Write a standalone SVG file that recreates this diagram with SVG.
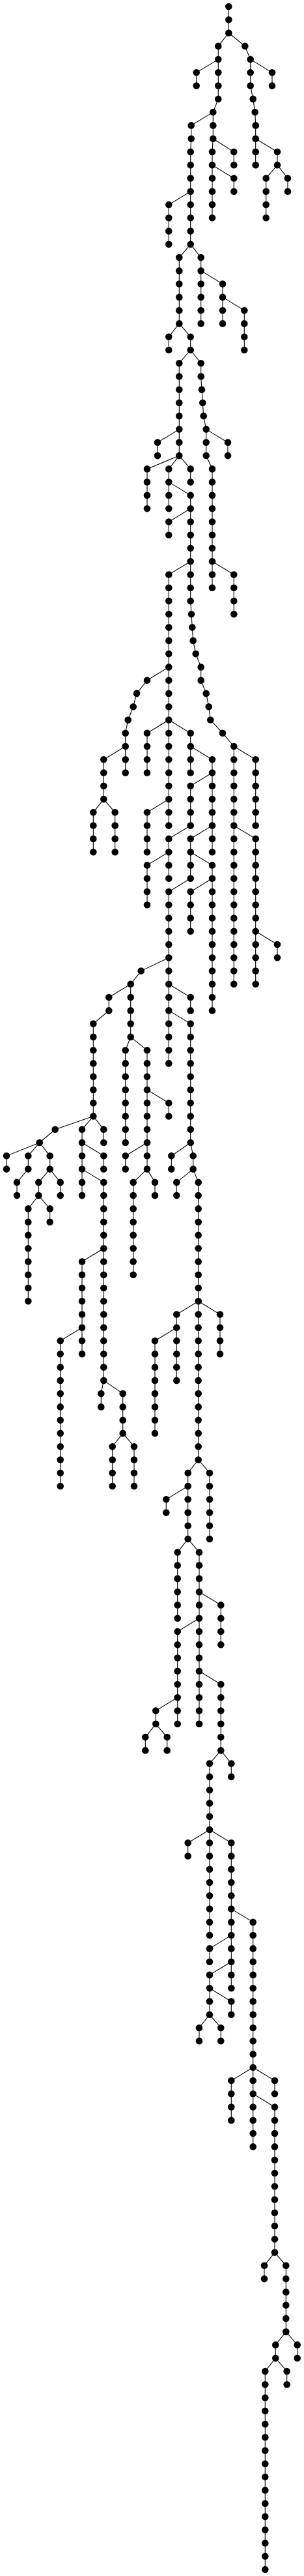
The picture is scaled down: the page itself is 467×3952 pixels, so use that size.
<svg xmlns="http://www.w3.org/2000/svg" width="467" height="3952" viewBox="0 0 467 3952">
<style>#edges path{fill:none;stroke:#000;stroke-width:1.1}.n circle{fill:#000}</style>
<rect width="467" height="3952" fill="#fff"/>
<g id="edges">
<path d="M351.3 10V50.5"/>
<path d="M351.3 50.5L335.3 70.8V91.1"/>
<path d="M351.3 50.5L376.3 70.8L384.7 91.1"/>
<path d="M335.3 91.1L301.7 111.3V131.6"/>
<path d="M335.3 91.1V151.9L327.3 172.1"/>
<path d="M327.3 172.1L293.7 192.4V212.7L292.7 233V293.8"/>
<path d="M327.3 172.1V212.7"/>
<path d="M292.7 293.8L259.3 314V374.8"/>
<path d="M292.7 293.8V374.8"/>
<path d="M327.3 212.7L326 233V253.2"/>
<path d="M327.3 212.7L359.3 233V253.2"/>
<path d="M326 253.2V334.3"/>
<path d="M326 253.2L359.3 273.5V293.8"/>
<path d="M384.7 91.1V131.6L388.7 151.9L391.7 172.1L392.7 192.4V212.7"/>
<path d="M384.7 91.1L418 111.3V131.6"/>
<path d="M392.7 212.7V253.2"/>
<path d="M392.7 212.7L426 233V253.2"/>
<path d="M426 253.2L408.7 273.5V334.3"/>
<path d="M426 253.2L442 273.5V293.8"/>
<path d="M292.7 374.8L275.3 395.1V496.4"/>
<path d="M292.7 374.8L308.7 395.1V415.4"/>
<path d="M308.7 415.4V496.4"/>
<path d="M308.7 415.4L342 435.6V455.9"/>
<path d="M342 455.9V496.4"/>
<path d="M342 455.9L375.3 476.2V537"/>
<path d="M275.3 496.4L259.3 516.7V537"/>
<path d="M275.3 496.4L292.7 516.7V537"/>
<path d="M292.7 537L275.3 557.2V658.6"/>
<path d="M292.7 537L308.7 557.2V577.5L310 597.8L311.3 618L312.7 638.3L316.7 658.6"/>
<path d="M316.7 658.6V699.1L326 719.4V861.3"/>
<path d="M316.7 658.6L350 678.8V699.1"/>
<path d="M326 861.3V901.8"/>
<path d="M326 861.3L359.3 881.5V942.3"/>
<path d="M275.3 658.6L242 678.8V699.1"/>
<path d="M275.3 658.6V699.1"/>
<path d="M275.3 699.1L226 719.4V780.2"/>
<path d="M275.3 699.1L259.3 719.4V739.6"/>
<path d="M275.3 699.1L292.7 719.4V739.6"/>
<path d="M259.3 739.6V780.2"/>
<path d="M259.3 739.6L292.7 759.9V780.2"/>
<path d="M292.7 780.2L259.3 800.5V820.7"/>
<path d="M292.7 780.2V861.3"/>
<path d="M292.7 861.3L259.3 881.5V1023.4"/>
<path d="M292.7 861.3V922.1L294 942.3L295.3 962.6L296.7 982.9L300.7 1003.1L308.7 1023.4V1043.7L316.7 1063.9L320.7 1084.2L323.3 1104.5L342 1124.7L359.3 1145"/>
<path d="M359.3 1145V1266.6"/>
<path d="M359.3 1145L392.7 1165.3V1266.6"/>
<path d="M359.3 1266.6V1509.8"/>
<path d="M359.3 1266.6L392.7 1286.9V1428.8"/>
<path d="M392.7 1428.8V1509.8"/>
<path d="M392.7 1428.8L426 1449V1469.3"/>
<path d="M259.3 1023.4L226 1043.7L210 1063.9L204.7 1084.2L196.7 1104.5L192.7 1124.7V1145"/>
<path d="M259.3 1023.4V1104.5"/>
<path d="M192.7 1145L159.3 1165.3V1226.1"/>
<path d="M192.7 1145V1185.5"/>
<path d="M159.3 1226.1L143.3 1246.3V1307.2"/>
<path d="M159.3 1226.1L176.7 1246.3V1307.2"/>
<path d="M259.3 1104.5L226 1124.7V1185.5"/>
<path d="M259.3 1104.5V1226.1"/>
<path d="M259.3 1104.5L292.7 1124.7V1145"/>
<path d="M292.7 1145V1185.5"/>
<path d="M292.7 1145L326 1165.3V1185.5"/>
<path d="M326 1185.5L292.7 1205.8V1266.6"/>
<path d="M326 1185.5V1266.6"/>
<path d="M259.3 1226.1L226 1246.3V1307.2"/>
<path d="M259.3 1226.1V1266.6"/>
<path d="M292.7 1266.6L259.3 1286.9V1307.2"/>
<path d="M326 1266.6L292.7 1286.9V1307.2"/>
<path d="M326 1266.6V1307.2"/>
<path d="M259.3 1307.2L226 1327.4V1388.2"/>
<path d="M259.3 1307.2V1347.7"/>
<path d="M292.7 1307.2V1347.7"/>
<path d="M292.7 1307.2L326 1327.4V1347.7"/>
<path d="M292.7 1347.7L259.3 1368V1469.3"/>
<path d="M326 1347.7L292.7 1368V1428.8"/>
<path d="M326 1347.7V1550.4"/>
<path d="M259.3 1469.3L216.7 1489.6L200.7 1509.8"/>
<path d="M259.3 1469.3V1509.8"/>
<path d="M259.3 1509.8V1550.4"/>
<path d="M259.3 1509.8L292.7 1530.1V1550.4"/>
<path d="M259.3 1550.4V1631.4"/>
<path d="M259.3 1550.4L292.7 1570.6V1753"/>
<path d="M292.7 1753L263.3 1773.3V1793.6"/>
<path d="M292.7 1753L296.7 1773.3V1793.6"/>
<path d="M296.7 1793.6L271.3 1813.9V1834.1"/>
<path d="M296.7 1793.6L304.7 1813.9V1996.3"/>
<path d="M304.7 1996.3L271.3 2016.5V2036.8"/>
<path d="M304.7 1996.3V2239.5"/>
<path d="M304.7 1996.3L338 2016.5V2077.3"/>
<path d="M271.3 2036.8L238 2057.1V2198.9"/>
<path d="M271.3 2036.8V2117.9"/>
<path d="M304.7 2239.5L288.7 2259.7V2280"/>
<path d="M304.7 2239.5L322 2259.7V2361.1"/>
<path d="M288.7 2280L255.3 2300.3V2320.6"/>
<path d="M288.7 2280V2361.1"/>
<path d="M288.7 2361.1L272.7 2381.4V2482.7"/>
<path d="M288.7 2361.1L306 2381.4V2442.2"/>
<path d="M306 2442.2V2482.7"/>
<path d="M306 2442.2L339.3 2462.4V2523.2"/>
<path d="M306 2482.7L272.7 2503V2604.3"/>
<path d="M306 2482.7V2563.8"/>
<path d="M272.7 2604.3L239.3 2624.6V2644.8"/>
<path d="M272.7 2604.3V2644.8"/>
<path d="M239.3 2644.8L223.3 2665.1V2685.4"/>
<path d="M239.3 2644.8L256.7 2665.1V2685.4"/>
<path d="M306 2563.8V2644.8"/>
<path d="M306 2563.8L339.3 2584V2685.4"/>
<path d="M339.3 2685.4L322 2705.6V2807"/>
<path d="M339.3 2685.4L355.3 2705.6V2725.9"/>
<path d="M322 2807L288.7 2827.3V2847.5"/>
<path d="M322 2807V2969.1"/>
<path d="M322 2807L355.3 2827.3V2928.6"/>
<path d="M355.3 2928.6V2969.1"/>
<path d="M355.3 2928.6L388.7 2948.9V3171.8"/>
<path d="M355.3 2969.1L322 2989.4V3009.7"/>
<path d="M355.3 2969.1V3009.7"/>
<path d="M355.3 3009.7L322 3029.9V3050.2"/>
<path d="M355.3 3009.7V3050.2"/>
<path d="M322 3050.2V3090.7"/>
<path d="M322 3050.2L355.3 3070.5V3090.7"/>
<path d="M322 3090.7L306 3111V3131.3"/>
<path d="M322 3090.7L339.3 3111V3131.3"/>
<path d="M388.7 3171.8L355.3 3192.1V3252.9"/>
<path d="M388.7 3171.8V3212.3"/>
<path d="M388.7 3171.8L422 3192.1V3212.3"/>
<path d="M388.7 3212.3V3293.4"/>
<path d="M388.7 3212.3L422 3232.6V3455.6"/>
<path d="M422 3455.6L406 3475.8V3496.1"/>
<path d="M422 3455.6L439.3 3475.8V3577.2"/>
<path d="M439.3 3577.2L423.3 3597.4V3617.7"/>
<path d="M439.3 3577.2L456.7 3597.4V3617.7"/>
<path d="M423.3 3617.7L407.3 3638V3942"/>
<path d="M423.3 3617.7L440.7 3638V3658.2"/>
<path d="M200.7 1509.8L167.3 1530.1V1550.4L143.3 1570.6V1712.5"/>
<path d="M200.7 1509.8V1590.9"/>
<path d="M143.3 1712.5L84.7 1732.8L60.7 1753"/>
<path d="M143.3 1712.5L126 1732.8V1753"/>
<path d="M143.3 1712.5L159.3 1732.8V1753"/>
<path d="M200.7 1590.9L192.7 1611.2V1753"/>
<path d="M200.7 1590.9L226 1611.2V1672"/>
<path d="M226 1672V1753"/>
<path d="M226 1672L259.3 1692.2V1712.5"/>
<path d="M226 1753L192.7 1773.3V1793.6"/>
<path d="M226 1753V1793.6"/>
<path d="M226 1793.6L204.7 1813.9V1955.7"/>
<path d="M226 1793.6L238 1813.9V1834.1"/>
<path d="M126 1753V1793.6"/>
<path d="M126 1753L159.3 1773.3V1793.6"/>
<path d="M126 1793.6V1834.1"/>
<path d="M126 1793.6L159.3 1813.9V1915.2"/>
<path d="M159.3 1915.2L126 1935.5V2036.8"/>
<path d="M159.3 1915.2V2117.9"/>
<path d="M126 2036.8L92.7 2057.1V2280"/>
<path d="M126 2036.8V2077.3"/>
<path d="M159.3 2117.9L155.3 2138.1V2158.4"/>
<path d="M159.3 2117.9L188.7 2138.1V2198.9"/>
<path d="M188.7 2198.9L172.7 2219.2V2280"/>
<path d="M188.7 2198.9L206 2219.2V2280"/>
<path d="M60.7 1753L10 1773.3V1793.6"/>
<path d="M60.7 1753L43.3 1773.3V1793.6L26 1813.9V1834.1"/>
<path d="M60.7 1753L76.7 1773.3V1793.6"/>
<path d="M76.7 1793.6L59.3 1813.9V1834.1"/>
<path d="M76.7 1793.6L92.7 1813.9V1834.1"/>
<path d="M59.3 1834.1L43.3 1854.4V1996.3"/>
<path d="M59.3 1834.1L76.7 1854.4V1874.7"/>
</g>
<g class="n">
<g id="n1"><circle cx="351.3" cy="10" r="5.3"/></g>
<g id="n2"><circle cx="351.3" cy="30.3" r="5.3"/></g>
<g id="n3"><circle cx="351.3" cy="50.5" r="5.3"/></g>
<g id="n4"><circle cx="335.3" cy="70.8" r="5.3"/></g>
<g id="n5"><circle cx="335.3" cy="91.1" r="5.3"/></g>
<g id="n6"><circle cx="376.3" cy="70.8" r="5.3"/></g>
<g id="n7"><circle cx="384.7" cy="91.1" r="5.3"/></g>
<g id="n8"><circle cx="301.7" cy="111.3" r="5.3"/></g>
<g id="n9"><circle cx="301.7" cy="131.6" r="5.3"/></g>
<g id="n10"><circle cx="335.3" cy="111.3" r="5.3"/></g>
<g id="n11"><circle cx="335.3" cy="131.6" r="5.3"/></g>
<g id="n12"><circle cx="335.3" cy="151.9" r="5.3"/></g>
<g id="n13"><circle cx="327.3" cy="172.1" r="5.3"/></g>
<g id="n14"><circle cx="293.7" cy="192.4" r="5.3"/></g>
<g id="n15"><circle cx="293.7" cy="212.7" r="5.3"/></g>
<g id="n16"><circle cx="292.7" cy="233" r="5.3"/></g>
<g id="n17"><circle cx="292.7" cy="253.2" r="5.3"/></g>
<g id="n18"><circle cx="292.7" cy="273.5" r="5.3"/></g>
<g id="n19"><circle cx="292.7" cy="293.8" r="5.3"/></g>
<g id="n20"><circle cx="327.3" cy="192.4" r="5.3"/></g>
<g id="n21"><circle cx="327.3" cy="212.7" r="5.3"/></g>
<g id="n22"><circle cx="259.3" cy="314" r="5.3"/></g>
<g id="n23"><circle cx="259.3" cy="334.3" r="5.3"/></g>
<g id="n24"><circle cx="259.3" cy="354.6" r="5.3"/></g>
<g id="n25"><circle cx="259.3" cy="374.8" r="5.3"/></g>
<g id="n26"><circle cx="292.7" cy="314" r="5.3"/></g>
<g id="n27"><circle cx="292.7" cy="334.3" r="5.3"/></g>
<g id="n28"><circle cx="292.7" cy="354.6" r="5.3"/></g>
<g id="n29"><circle cx="292.7" cy="374.8" r="5.3"/></g>
<g id="n30"><circle cx="326" cy="233" r="5.3"/></g>
<g id="n31"><circle cx="326" cy="253.2" r="5.3"/></g>
<g id="n32"><circle cx="359.3" cy="233" r="5.3"/></g>
<g id="n33"><circle cx="359.3" cy="253.2" r="5.3"/></g>
<g id="n34"><circle cx="326" cy="273.5" r="5.3"/></g>
<g id="n35"><circle cx="326" cy="293.8" r="5.3"/></g>
<g id="n36"><circle cx="326" cy="314" r="5.3"/></g>
<g id="n37"><circle cx="326" cy="334.3" r="5.3"/></g>
<g id="n38"><circle cx="359.3" cy="273.5" r="5.3"/></g>
<g id="n39"><circle cx="359.3" cy="293.8" r="5.3"/></g>
<g id="n40"><circle cx="384.7" cy="111.3" r="5.3"/></g>
<g id="n41"><circle cx="384.7" cy="131.6" r="5.3"/></g>
<g id="n42"><circle cx="388.7" cy="151.9" r="5.3"/></g>
<g id="n43"><circle cx="391.7" cy="172.1" r="5.3"/></g>
<g id="n44"><circle cx="392.7" cy="192.4" r="5.3"/></g>
<g id="n45"><circle cx="392.7" cy="212.7" r="5.3"/></g>
<g id="n46"><circle cx="418" cy="111.3" r="5.3"/></g>
<g id="n47"><circle cx="418" cy="131.6" r="5.3"/></g>
<g id="n48"><circle cx="392.7" cy="233" r="5.3"/></g>
<g id="n49"><circle cx="392.7" cy="253.2" r="5.3"/></g>
<g id="n50"><circle cx="426" cy="233" r="5.3"/></g>
<g id="n51"><circle cx="426" cy="253.2" r="5.3"/></g>
<g id="n52"><circle cx="408.7" cy="273.5" r="5.3"/></g>
<g id="n53"><circle cx="408.7" cy="293.8" r="5.3"/></g>
<g id="n54"><circle cx="408.7" cy="314" r="5.3"/></g>
<g id="n55"><circle cx="408.7" cy="334.3" r="5.3"/></g>
<g id="n56"><circle cx="442" cy="273.5" r="5.3"/></g>
<g id="n57"><circle cx="442" cy="293.8" r="5.3"/></g>
<g id="n58"><circle cx="275.3" cy="395.1" r="5.3"/></g>
<g id="n59"><circle cx="275.3" cy="415.4" r="5.3"/></g>
<g id="n60"><circle cx="275.3" cy="435.6" r="5.3"/></g>
<g id="n61"><circle cx="275.3" cy="455.9" r="5.3"/></g>
<g id="n62"><circle cx="275.3" cy="476.2" r="5.3"/></g>
<g id="n63"><circle cx="275.3" cy="496.4" r="5.3"/></g>
<g id="n64"><circle cx="308.7" cy="395.1" r="5.3"/></g>
<g id="n65"><circle cx="308.7" cy="415.4" r="5.3"/></g>
<g id="n66"><circle cx="308.7" cy="435.6" r="5.3"/></g>
<g id="n67"><circle cx="308.7" cy="455.9" r="5.3"/></g>
<g id="n68"><circle cx="308.7" cy="476.2" r="5.3"/></g>
<g id="n69"><circle cx="308.7" cy="496.4" r="5.3"/></g>
<g id="n70"><circle cx="342" cy="435.6" r="5.3"/></g>
<g id="n71"><circle cx="342" cy="455.9" r="5.3"/></g>
<g id="n72"><circle cx="342" cy="476.2" r="5.3"/></g>
<g id="n73"><circle cx="342" cy="496.4" r="5.3"/></g>
<g id="n74"><circle cx="375.3" cy="476.2" r="5.3"/></g>
<g id="n75"><circle cx="375.3" cy="496.4" r="5.3"/></g>
<g id="n76"><circle cx="375.3" cy="516.7" r="5.3"/></g>
<g id="n77"><circle cx="375.3" cy="537" r="5.3"/></g>
<g id="n78"><circle cx="259.3" cy="516.7" r="5.3"/></g>
<g id="n79"><circle cx="259.3" cy="537" r="5.3"/></g>
<g id="n80"><circle cx="292.7" cy="516.7" r="5.3"/></g>
<g id="n81"><circle cx="292.7" cy="537" r="5.3"/></g>
<g id="n82"><circle cx="275.3" cy="557.2" r="5.3"/></g>
<g id="n83"><circle cx="275.3" cy="577.5" r="5.3"/></g>
<g id="n84"><circle cx="275.3" cy="597.8" r="5.3"/></g>
<g id="n85"><circle cx="275.3" cy="618" r="5.3"/></g>
<g id="n86"><circle cx="275.3" cy="638.3" r="5.3"/></g>
<g id="n87"><circle cx="275.3" cy="658.6" r="5.3"/></g>
<g id="n88"><circle cx="308.7" cy="557.2" r="5.3"/></g>
<g id="n89"><circle cx="308.7" cy="577.5" r="5.3"/></g>
<g id="n90"><circle cx="310" cy="597.8" r="5.3"/></g>
<g id="n91"><circle cx="311.3" cy="618" r="5.3"/></g>
<g id="n92"><circle cx="312.7" cy="638.3" r="5.3"/></g>
<g id="n93"><circle cx="316.7" cy="658.6" r="5.3"/></g>
<g id="n94"><circle cx="316.7" cy="678.8" r="5.3"/></g>
<g id="n95"><circle cx="316.7" cy="699.1" r="5.3"/></g>
<g id="n96"><circle cx="326" cy="719.4" r="5.3"/></g>
<g id="n97"><circle cx="326" cy="739.6" r="5.3"/></g>
<g id="n98"><circle cx="326" cy="759.9" r="5.3"/></g>
<g id="n99"><circle cx="326" cy="780.2" r="5.3"/></g>
<g id="n100"><circle cx="326" cy="800.5" r="5.3"/></g>
<g id="n101"><circle cx="326" cy="820.7" r="5.3"/></g>
<g id="n102"><circle cx="326" cy="841" r="5.3"/></g>
<g id="n103"><circle cx="326" cy="861.3" r="5.3"/></g>
<g id="n104"><circle cx="350" cy="678.8" r="5.3"/></g>
<g id="n105"><circle cx="350" cy="699.1" r="5.3"/></g>
<g id="n106"><circle cx="326" cy="881.5" r="5.3"/></g>
<g id="n107"><circle cx="326" cy="901.8" r="5.3"/></g>
<g id="n108"><circle cx="359.3" cy="881.5" r="5.3"/></g>
<g id="n109"><circle cx="359.3" cy="901.8" r="5.3"/></g>
<g id="n110"><circle cx="359.3" cy="922.1" r="5.3"/></g>
<g id="n111"><circle cx="359.3" cy="942.3" r="5.3"/></g>
<g id="n112"><circle cx="242" cy="678.8" r="5.3"/></g>
<g id="n113"><circle cx="242" cy="699.1" r="5.3"/></g>
<g id="n114"><circle cx="275.3" cy="678.8" r="5.3"/></g>
<g id="n115"><circle cx="275.3" cy="699.1" r="5.3"/></g>
<g id="n116"><circle cx="226" cy="719.4" r="5.3"/></g>
<g id="n117"><circle cx="226" cy="739.6" r="5.3"/></g>
<g id="n118"><circle cx="226" cy="759.9" r="5.3"/></g>
<g id="n119"><circle cx="226" cy="780.2" r="5.3"/></g>
<g id="n120"><circle cx="259.3" cy="719.4" r="5.3"/></g>
<g id="n121"><circle cx="259.3" cy="739.6" r="5.3"/></g>
<g id="n122"><circle cx="292.7" cy="719.4" r="5.3"/></g>
<g id="n123"><circle cx="292.7" cy="739.6" r="5.3"/></g>
<g id="n124"><circle cx="259.3" cy="759.9" r="5.3"/></g>
<g id="n125"><circle cx="259.3" cy="780.2" r="5.3"/></g>
<g id="n126"><circle cx="292.7" cy="759.9" r="5.3"/></g>
<g id="n127"><circle cx="292.7" cy="780.2" r="5.3"/></g>
<g id="n128"><circle cx="259.3" cy="800.5" r="5.3"/></g>
<g id="n129"><circle cx="259.3" cy="820.7" r="5.3"/></g>
<g id="n130"><circle cx="292.7" cy="800.5" r="5.3"/></g>
<g id="n131"><circle cx="292.7" cy="820.7" r="5.3"/></g>
<g id="n132"><circle cx="292.7" cy="841" r="5.3"/></g>
<g id="n133"><circle cx="292.7" cy="861.3" r="5.3"/></g>
<g id="n134"><circle cx="259.3" cy="881.5" r="5.3"/></g>
<g id="n135"><circle cx="259.3" cy="901.8" r="5.3"/></g>
<g id="n136"><circle cx="259.3" cy="922.1" r="5.3"/></g>
<g id="n137"><circle cx="259.3" cy="942.3" r="5.3"/></g>
<g id="n138"><circle cx="259.3" cy="962.6" r="5.3"/></g>
<g id="n139"><circle cx="259.3" cy="982.9" r="5.3"/></g>
<g id="n140"><circle cx="259.3" cy="1003.1" r="5.3"/></g>
<g id="n141"><circle cx="259.3" cy="1023.4" r="5.3"/></g>
<g id="n142"><circle cx="292.7" cy="881.5" r="5.3"/></g>
<g id="n143"><circle cx="292.7" cy="901.8" r="5.3"/></g>
<g id="n144"><circle cx="292.7" cy="922.1" r="5.3"/></g>
<g id="n145"><circle cx="294" cy="942.3" r="5.3"/></g>
<g id="n146"><circle cx="295.3" cy="962.6" r="5.3"/></g>
<g id="n147"><circle cx="296.7" cy="982.9" r="5.3"/></g>
<g id="n148"><circle cx="300.7" cy="1003.1" r="5.3"/></g>
<g id="n149"><circle cx="308.7" cy="1023.4" r="5.3"/></g>
<g id="n150"><circle cx="308.7" cy="1043.7" r="5.3"/></g>
<g id="n151"><circle cx="316.7" cy="1063.9" r="5.3"/></g>
<g id="n152"><circle cx="320.7" cy="1084.2" r="5.3"/></g>
<g id="n153"><circle cx="323.3" cy="1104.5" r="5.3"/></g>
<g id="n154"><circle cx="342" cy="1124.7" r="5.3"/></g>
<g id="n155"><circle cx="359.3" cy="1145" r="5.3"/></g>
<g id="n156"><circle cx="359.3" cy="1165.3" r="5.3"/></g>
<g id="n157"><circle cx="359.3" cy="1185.5" r="5.3"/></g>
<g id="n158"><circle cx="359.3" cy="1205.8" r="5.3"/></g>
<g id="n159"><circle cx="359.3" cy="1226.1" r="5.3"/></g>
<g id="n160"><circle cx="359.3" cy="1246.3" r="5.3"/></g>
<g id="n161"><circle cx="359.3" cy="1266.6" r="5.3"/></g>
<g id="n162"><circle cx="392.7" cy="1165.3" r="5.3"/></g>
<g id="n163"><circle cx="392.7" cy="1185.5" r="5.3"/></g>
<g id="n164"><circle cx="392.7" cy="1205.8" r="5.3"/></g>
<g id="n165"><circle cx="392.7" cy="1226.1" r="5.3"/></g>
<g id="n166"><circle cx="392.7" cy="1246.3" r="5.3"/></g>
<g id="n167"><circle cx="392.7" cy="1266.6" r="5.3"/></g>
<g id="n168"><circle cx="359.3" cy="1286.9" r="5.3"/></g>
<g id="n169"><circle cx="359.3" cy="1307.2" r="5.3"/></g>
<g id="n170"><circle cx="359.3" cy="1327.4" r="5.3"/></g>
<g id="n171"><circle cx="359.3" cy="1347.7" r="5.3"/></g>
<g id="n172"><circle cx="359.3" cy="1368" r="5.3"/></g>
<g id="n173"><circle cx="359.3" cy="1388.2" r="5.3"/></g>
<g id="n174"><circle cx="359.3" cy="1408.5" r="5.3"/></g>
<g id="n175"><circle cx="359.3" cy="1428.8" r="5.3"/></g>
<g id="n176"><circle cx="359.3" cy="1449" r="5.3"/></g>
<g id="n177"><circle cx="359.3" cy="1469.3" r="5.3"/></g>
<g id="n178"><circle cx="359.3" cy="1489.6" r="5.3"/></g>
<g id="n179"><circle cx="359.3" cy="1509.8" r="5.3"/></g>
<g id="n180"><circle cx="392.7" cy="1286.9" r="5.3"/></g>
<g id="n181"><circle cx="392.7" cy="1307.2" r="5.3"/></g>
<g id="n182"><circle cx="392.7" cy="1327.4" r="5.3"/></g>
<g id="n183"><circle cx="392.7" cy="1347.7" r="5.3"/></g>
<g id="n184"><circle cx="392.7" cy="1368" r="5.3"/></g>
<g id="n185"><circle cx="392.7" cy="1388.2" r="5.3"/></g>
<g id="n186"><circle cx="392.7" cy="1408.5" r="5.3"/></g>
<g id="n187"><circle cx="392.7" cy="1428.8" r="5.3"/></g>
<g id="n188"><circle cx="392.7" cy="1449" r="5.3"/></g>
<g id="n189"><circle cx="392.7" cy="1469.3" r="5.3"/></g>
<g id="n190"><circle cx="392.7" cy="1489.6" r="5.3"/></g>
<g id="n191"><circle cx="392.7" cy="1509.8" r="5.3"/></g>
<g id="n192"><circle cx="426" cy="1449" r="5.3"/></g>
<g id="n193"><circle cx="426" cy="1469.3" r="5.3"/></g>
<g id="n194"><circle cx="226" cy="1043.7" r="5.3"/></g>
<g id="n195"><circle cx="210" cy="1063.9" r="5.3"/></g>
<g id="n196"><circle cx="204.7" cy="1084.2" r="5.3"/></g>
<g id="n197"><circle cx="196.7" cy="1104.5" r="5.3"/></g>
<g id="n198"><circle cx="192.7" cy="1124.7" r="5.3"/></g>
<g id="n199"><circle cx="192.7" cy="1145" r="5.3"/></g>
<g id="n200"><circle cx="259.3" cy="1043.7" r="5.3"/></g>
<g id="n201"><circle cx="259.3" cy="1063.9" r="5.3"/></g>
<g id="n202"><circle cx="259.3" cy="1084.2" r="5.3"/></g>
<g id="n203"><circle cx="259.3" cy="1104.5" r="5.3"/></g>
<g id="n204"><circle cx="159.3" cy="1165.3" r="5.3"/></g>
<g id="n205"><circle cx="159.3" cy="1185.5" r="5.3"/></g>
<g id="n206"><circle cx="159.3" cy="1205.8" r="5.3"/></g>
<g id="n207"><circle cx="159.3" cy="1226.1" r="5.3"/></g>
<g id="n208"><circle cx="192.7" cy="1165.3" r="5.3"/></g>
<g id="n209"><circle cx="192.7" cy="1185.5" r="5.3"/></g>
<g id="n210"><circle cx="143.3" cy="1246.3" r="5.3"/></g>
<g id="n211"><circle cx="143.3" cy="1266.6" r="5.3"/></g>
<g id="n212"><circle cx="143.3" cy="1286.9" r="5.3"/></g>
<g id="n213"><circle cx="143.3" cy="1307.2" r="5.3"/></g>
<g id="n214"><circle cx="176.7" cy="1246.3" r="5.3"/></g>
<g id="n215"><circle cx="176.7" cy="1266.6" r="5.3"/></g>
<g id="n216"><circle cx="176.7" cy="1286.9" r="5.3"/></g>
<g id="n217"><circle cx="176.7" cy="1307.2" r="5.3"/></g>
<g id="n218"><circle cx="226" cy="1124.7" r="5.3"/></g>
<g id="n219"><circle cx="226" cy="1145" r="5.3"/></g>
<g id="n220"><circle cx="226" cy="1165.3" r="5.3"/></g>
<g id="n221"><circle cx="226" cy="1185.5" r="5.3"/></g>
<g id="n222"><circle cx="259.3" cy="1124.7" r="5.3"/></g>
<g id="n223"><circle cx="259.3" cy="1145" r="5.3"/></g>
<g id="n224"><circle cx="259.3" cy="1165.3" r="5.3"/></g>
<g id="n225"><circle cx="259.3" cy="1185.5" r="5.3"/></g>
<g id="n226"><circle cx="259.3" cy="1205.8" r="5.3"/></g>
<g id="n227"><circle cx="259.3" cy="1226.1" r="5.3"/></g>
<g id="n228"><circle cx="292.7" cy="1124.7" r="5.3"/></g>
<g id="n229"><circle cx="292.7" cy="1145" r="5.3"/></g>
<g id="n230"><circle cx="292.7" cy="1165.3" r="5.3"/></g>
<g id="n231"><circle cx="292.7" cy="1185.5" r="5.3"/></g>
<g id="n232"><circle cx="326" cy="1165.3" r="5.3"/></g>
<g id="n233"><circle cx="326" cy="1185.5" r="5.3"/></g>
<g id="n234"><circle cx="292.7" cy="1205.8" r="5.3"/></g>
<g id="n235"><circle cx="292.7" cy="1226.1" r="5.3"/></g>
<g id="n236"><circle cx="292.7" cy="1246.3" r="5.3"/></g>
<g id="n237"><circle cx="292.7" cy="1266.6" r="5.3"/></g>
<g id="n238"><circle cx="326" cy="1205.8" r="5.3"/></g>
<g id="n239"><circle cx="326" cy="1226.1" r="5.3"/></g>
<g id="n240"><circle cx="326" cy="1246.3" r="5.3"/></g>
<g id="n241"><circle cx="326" cy="1266.6" r="5.3"/></g>
<g id="n242"><circle cx="226" cy="1246.3" r="5.3"/></g>
<g id="n243"><circle cx="226" cy="1266.6" r="5.3"/></g>
<g id="n244"><circle cx="226" cy="1286.9" r="5.3"/></g>
<g id="n245"><circle cx="226" cy="1307.2" r="5.3"/></g>
<g id="n246"><circle cx="259.3" cy="1246.3" r="5.3"/></g>
<g id="n247"><circle cx="259.3" cy="1266.6" r="5.3"/></g>
<g id="n248"><circle cx="259.3" cy="1286.9" r="5.3"/></g>
<g id="n249"><circle cx="259.3" cy="1307.2" r="5.3"/></g>
<g id="n250"><circle cx="292.7" cy="1286.9" r="5.3"/></g>
<g id="n251"><circle cx="292.7" cy="1307.2" r="5.3"/></g>
<g id="n252"><circle cx="326" cy="1286.9" r="5.3"/></g>
<g id="n253"><circle cx="326" cy="1307.2" r="5.3"/></g>
<g id="n254"><circle cx="226" cy="1327.4" r="5.3"/></g>
<g id="n255"><circle cx="226" cy="1347.7" r="5.3"/></g>
<g id="n256"><circle cx="226" cy="1368" r="5.3"/></g>
<g id="n257"><circle cx="226" cy="1388.2" r="5.3"/></g>
<g id="n258"><circle cx="259.3" cy="1327.4" r="5.3"/></g>
<g id="n259"><circle cx="259.3" cy="1347.7" r="5.3"/></g>
<g id="n260"><circle cx="292.7" cy="1327.4" r="5.3"/></g>
<g id="n261"><circle cx="292.7" cy="1347.7" r="5.3"/></g>
<g id="n262"><circle cx="326" cy="1327.4" r="5.3"/></g>
<g id="n263"><circle cx="326" cy="1347.7" r="5.3"/></g>
<g id="n264"><circle cx="259.3" cy="1368" r="5.3"/></g>
<g id="n265"><circle cx="259.3" cy="1388.2" r="5.3"/></g>
<g id="n266"><circle cx="259.3" cy="1408.5" r="5.3"/></g>
<g id="n267"><circle cx="259.3" cy="1428.8" r="5.3"/></g>
<g id="n268"><circle cx="259.3" cy="1449" r="5.3"/></g>
<g id="n269"><circle cx="259.3" cy="1469.3" r="5.3"/></g>
<g id="n270"><circle cx="292.7" cy="1368" r="5.3"/></g>
<g id="n271"><circle cx="292.7" cy="1388.2" r="5.3"/></g>
<g id="n272"><circle cx="292.7" cy="1408.5" r="5.3"/></g>
<g id="n273"><circle cx="292.7" cy="1428.8" r="5.3"/></g>
<g id="n274"><circle cx="326" cy="1368" r="5.3"/></g>
<g id="n275"><circle cx="326" cy="1388.2" r="5.3"/></g>
<g id="n276"><circle cx="326" cy="1408.5" r="5.3"/></g>
<g id="n277"><circle cx="326" cy="1428.8" r="5.3"/></g>
<g id="n278"><circle cx="326" cy="1449" r="5.3"/></g>
<g id="n279"><circle cx="326" cy="1469.3" r="5.3"/></g>
<g id="n280"><circle cx="326" cy="1489.6" r="5.3"/></g>
<g id="n281"><circle cx="326" cy="1509.8" r="5.3"/></g>
<g id="n282"><circle cx="326" cy="1530.1" r="5.3"/></g>
<g id="n283"><circle cx="326" cy="1550.4" r="5.3"/></g>
<g id="n284"><circle cx="216.7" cy="1489.6" r="5.3"/></g>
<g id="n285"><circle cx="200.7" cy="1509.8" r="5.3"/></g>
<g id="n286"><circle cx="259.3" cy="1489.6" r="5.3"/></g>
<g id="n287"><circle cx="259.3" cy="1509.8" r="5.3"/></g>
<g id="n288"><circle cx="259.3" cy="1530.1" r="5.3"/></g>
<g id="n289"><circle cx="259.3" cy="1550.4" r="5.3"/></g>
<g id="n290"><circle cx="292.7" cy="1530.1" r="5.3"/></g>
<g id="n291"><circle cx="292.7" cy="1550.4" r="5.3"/></g>
<g id="n292"><circle cx="259.3" cy="1570.6" r="5.3"/></g>
<g id="n293"><circle cx="259.3" cy="1590.9" r="5.3"/></g>
<g id="n294"><circle cx="259.3" cy="1611.2" r="5.3"/></g>
<g id="n295"><circle cx="259.3" cy="1631.4" r="5.3"/></g>
<g id="n296"><circle cx="292.7" cy="1570.6" r="5.3"/></g>
<g id="n297"><circle cx="292.7" cy="1590.9" r="5.3"/></g>
<g id="n298"><circle cx="292.7" cy="1611.2" r="5.3"/></g>
<g id="n299"><circle cx="292.7" cy="1631.4" r="5.3"/></g>
<g id="n300"><circle cx="292.7" cy="1651.7" r="5.3"/></g>
<g id="n301"><circle cx="292.7" cy="1672" r="5.3"/></g>
<g id="n302"><circle cx="292.7" cy="1692.2" r="5.3"/></g>
<g id="n303"><circle cx="292.7" cy="1712.5" r="5.3"/></g>
<g id="n304"><circle cx="292.7" cy="1732.8" r="5.3"/></g>
<g id="n305"><circle cx="292.7" cy="1753" r="5.3"/></g>
<g id="n306"><circle cx="263.3" cy="1773.3" r="5.3"/></g>
<g id="n307"><circle cx="263.3" cy="1793.6" r="5.3"/></g>
<g id="n308"><circle cx="296.7" cy="1773.3" r="5.3"/></g>
<g id="n309"><circle cx="296.7" cy="1793.6" r="5.3"/></g>
<g id="n310"><circle cx="271.3" cy="1813.9" r="5.3"/></g>
<g id="n311"><circle cx="271.3" cy="1834.1" r="5.3"/></g>
<g id="n312"><circle cx="304.7" cy="1813.9" r="5.3"/></g>
<g id="n313"><circle cx="304.7" cy="1834.1" r="5.3"/></g>
<g id="n314"><circle cx="304.7" cy="1854.4" r="5.3"/></g>
<g id="n315"><circle cx="304.7" cy="1874.7" r="5.3"/></g>
<g id="n316"><circle cx="304.7" cy="1894.9" r="5.3"/></g>
<g id="n317"><circle cx="304.7" cy="1915.2" r="5.3"/></g>
<g id="n318"><circle cx="304.7" cy="1935.5" r="5.3"/></g>
<g id="n319"><circle cx="304.7" cy="1955.7" r="5.3"/></g>
<g id="n320"><circle cx="304.7" cy="1976" r="5.3"/></g>
<g id="n321"><circle cx="304.7" cy="1996.3" r="5.3"/></g>
<g id="n322"><circle cx="271.3" cy="2016.5" r="5.3"/></g>
<g id="n323"><circle cx="271.3" cy="2036.8" r="5.3"/></g>
<g id="n324"><circle cx="304.7" cy="2016.5" r="5.3"/></g>
<g id="n325"><circle cx="304.7" cy="2036.8" r="5.3"/></g>
<g id="n326"><circle cx="304.7" cy="2057.1" r="5.3"/></g>
<g id="n327"><circle cx="304.7" cy="2077.3" r="5.3"/></g>
<g id="n328"><circle cx="304.7" cy="2097.6" r="5.3"/></g>
<g id="n329"><circle cx="304.7" cy="2117.9" r="5.3"/></g>
<g id="n330"><circle cx="304.7" cy="2138.1" r="5.3"/></g>
<g id="n331"><circle cx="304.7" cy="2158.4" r="5.3"/></g>
<g id="n332"><circle cx="304.7" cy="2178.7" r="5.3"/></g>
<g id="n333"><circle cx="304.7" cy="2198.9" r="5.3"/></g>
<g id="n334"><circle cx="304.7" cy="2219.2" r="5.3"/></g>
<g id="n335"><circle cx="304.7" cy="2239.5" r="5.3"/></g>
<g id="n336"><circle cx="338" cy="2016.5" r="5.3"/></g>
<g id="n337"><circle cx="338" cy="2036.8" r="5.3"/></g>
<g id="n338"><circle cx="338" cy="2057.1" r="5.3"/></g>
<g id="n339"><circle cx="338" cy="2077.3" r="5.3"/></g>
<g id="n340"><circle cx="238" cy="2057.1" r="5.3"/></g>
<g id="n341"><circle cx="238" cy="2077.3" r="5.3"/></g>
<g id="n342"><circle cx="238" cy="2097.6" r="5.3"/></g>
<g id="n343"><circle cx="238" cy="2117.9" r="5.3"/></g>
<g id="n344"><circle cx="238" cy="2138.1" r="5.3"/></g>
<g id="n345"><circle cx="238" cy="2158.4" r="5.3"/></g>
<g id="n346"><circle cx="238" cy="2178.7" r="5.3"/></g>
<g id="n347"><circle cx="238" cy="2198.9" r="5.3"/></g>
<g id="n348"><circle cx="271.3" cy="2057.1" r="5.3"/></g>
<g id="n349"><circle cx="271.3" cy="2077.3" r="5.3"/></g>
<g id="n350"><circle cx="271.3" cy="2097.6" r="5.3"/></g>
<g id="n351"><circle cx="271.3" cy="2117.9" r="5.3"/></g>
<g id="n352"><circle cx="288.7" cy="2259.7" r="5.3"/></g>
<g id="n353"><circle cx="288.7" cy="2280" r="5.3"/></g>
<g id="n354"><circle cx="322" cy="2259.7" r="5.3"/></g>
<g id="n355"><circle cx="322" cy="2280" r="5.3"/></g>
<g id="n356"><circle cx="322" cy="2300.3" r="5.3"/></g>
<g id="n357"><circle cx="322" cy="2320.6" r="5.3"/></g>
<g id="n358"><circle cx="322" cy="2340.8" r="5.3"/></g>
<g id="n359"><circle cx="322" cy="2361.1" r="5.3"/></g>
<g id="n360"><circle cx="255.3" cy="2300.3" r="5.3"/></g>
<g id="n361"><circle cx="255.3" cy="2320.6" r="5.3"/></g>
<g id="n362"><circle cx="288.7" cy="2300.3" r="5.3"/></g>
<g id="n363"><circle cx="288.7" cy="2320.6" r="5.3"/></g>
<g id="n364"><circle cx="288.7" cy="2340.8" r="5.3"/></g>
<g id="n365"><circle cx="288.7" cy="2361.1" r="5.3"/></g>
<g id="n366"><circle cx="272.7" cy="2381.4" r="5.3"/></g>
<g id="n367"><circle cx="272.7" cy="2401.6" r="5.3"/></g>
<g id="n368"><circle cx="272.7" cy="2421.9" r="5.3"/></g>
<g id="n369"><circle cx="272.7" cy="2442.2" r="5.3"/></g>
<g id="n370"><circle cx="272.7" cy="2462.4" r="5.3"/></g>
<g id="n371"><circle cx="272.7" cy="2482.7" r="5.3"/></g>
<g id="n372"><circle cx="306" cy="2381.4" r="5.3"/></g>
<g id="n373"><circle cx="306" cy="2401.6" r="5.3"/></g>
<g id="n374"><circle cx="306" cy="2421.9" r="5.3"/></g>
<g id="n375"><circle cx="306" cy="2442.2" r="5.3"/></g>
<g id="n376"><circle cx="306" cy="2462.4" r="5.3"/></g>
<g id="n377"><circle cx="306" cy="2482.7" r="5.3"/></g>
<g id="n378"><circle cx="339.3" cy="2462.4" r="5.3"/></g>
<g id="n379"><circle cx="339.3" cy="2482.7" r="5.3"/></g>
<g id="n380"><circle cx="339.3" cy="2503" r="5.3"/></g>
<g id="n381"><circle cx="339.3" cy="2523.2" r="5.3"/></g>
<g id="n382"><circle cx="272.7" cy="2503" r="5.3"/></g>
<g id="n383"><circle cx="272.7" cy="2523.2" r="5.3"/></g>
<g id="n384"><circle cx="272.7" cy="2543.5" r="5.3"/></g>
<g id="n385"><circle cx="272.7" cy="2563.8" r="5.3"/></g>
<g id="n386"><circle cx="272.7" cy="2584" r="5.3"/></g>
<g id="n387"><circle cx="272.7" cy="2604.3" r="5.3"/></g>
<g id="n388"><circle cx="306" cy="2503" r="5.3"/></g>
<g id="n389"><circle cx="306" cy="2523.2" r="5.3"/></g>
<g id="n390"><circle cx="306" cy="2543.5" r="5.3"/></g>
<g id="n391"><circle cx="306" cy="2563.8" r="5.3"/></g>
<g id="n392"><circle cx="239.3" cy="2624.6" r="5.3"/></g>
<g id="n393"><circle cx="239.3" cy="2644.8" r="5.3"/></g>
<g id="n394"><circle cx="272.7" cy="2624.6" r="5.3"/></g>
<g id="n395"><circle cx="272.7" cy="2644.8" r="5.3"/></g>
<g id="n396"><circle cx="223.3" cy="2665.1" r="5.3"/></g>
<g id="n397"><circle cx="223.3" cy="2685.4" r="5.3"/></g>
<g id="n398"><circle cx="256.7" cy="2665.1" r="5.3"/></g>
<g id="n399"><circle cx="256.7" cy="2685.4" r="5.3"/></g>
<g id="n400"><circle cx="306" cy="2584" r="5.3"/></g>
<g id="n401"><circle cx="306" cy="2604.3" r="5.3"/></g>
<g id="n402"><circle cx="306" cy="2624.6" r="5.3"/></g>
<g id="n403"><circle cx="306" cy="2644.8" r="5.3"/></g>
<g id="n404"><circle cx="339.3" cy="2584" r="5.3"/></g>
<g id="n405"><circle cx="339.3" cy="2604.3" r="5.3"/></g>
<g id="n406"><circle cx="339.3" cy="2624.6" r="5.3"/></g>
<g id="n407"><circle cx="339.3" cy="2644.8" r="5.3"/></g>
<g id="n408"><circle cx="339.3" cy="2665.1" r="5.3"/></g>
<g id="n409"><circle cx="339.3" cy="2685.4" r="5.3"/></g>
<g id="n410"><circle cx="322" cy="2705.6" r="5.3"/></g>
<g id="n411"><circle cx="322" cy="2725.9" r="5.3"/></g>
<g id="n412"><circle cx="322" cy="2746.2" r="5.3"/></g>
<g id="n413"><circle cx="322" cy="2766.4" r="5.3"/></g>
<g id="n414"><circle cx="322" cy="2786.7" r="5.3"/></g>
<g id="n415"><circle cx="322" cy="2807" r="5.3"/></g>
<g id="n416"><circle cx="355.3" cy="2705.6" r="5.3"/></g>
<g id="n417"><circle cx="355.3" cy="2725.9" r="5.3"/></g>
<g id="n418"><circle cx="288.7" cy="2827.3" r="5.3"/></g>
<g id="n419"><circle cx="288.7" cy="2847.5" r="5.3"/></g>
<g id="n420"><circle cx="322" cy="2827.3" r="5.3"/></g>
<g id="n421"><circle cx="322" cy="2847.5" r="5.3"/></g>
<g id="n422"><circle cx="322" cy="2867.8" r="5.3"/></g>
<g id="n423"><circle cx="322" cy="2888.1" r="5.3"/></g>
<g id="n424"><circle cx="322" cy="2908.3" r="5.3"/></g>
<g id="n425"><circle cx="322" cy="2928.6" r="5.3"/></g>
<g id="n426"><circle cx="322" cy="2948.9" r="5.3"/></g>
<g id="n427"><circle cx="322" cy="2969.1" r="5.3"/></g>
<g id="n428"><circle cx="355.3" cy="2827.3" r="5.3"/></g>
<g id="n429"><circle cx="355.3" cy="2847.5" r="5.3"/></g>
<g id="n430"><circle cx="355.3" cy="2867.8" r="5.3"/></g>
<g id="n431"><circle cx="355.3" cy="2888.1" r="5.3"/></g>
<g id="n432"><circle cx="355.3" cy="2908.3" r="5.3"/></g>
<g id="n433"><circle cx="355.3" cy="2928.6" r="5.3"/></g>
<g id="n434"><circle cx="355.3" cy="2948.9" r="5.3"/></g>
<g id="n435"><circle cx="355.3" cy="2969.1" r="5.3"/></g>
<g id="n436"><circle cx="388.7" cy="2948.9" r="5.3"/></g>
<g id="n437"><circle cx="388.7" cy="2969.1" r="5.3"/></g>
<g id="n438"><circle cx="388.7" cy="2989.4" r="5.3"/></g>
<g id="n439"><circle cx="388.7" cy="3009.7" r="5.3"/></g>
<g id="n440"><circle cx="388.7" cy="3029.9" r="5.3"/></g>
<g id="n441"><circle cx="388.7" cy="3050.2" r="5.3"/></g>
<g id="n442"><circle cx="388.7" cy="3070.5" r="5.3"/></g>
<g id="n443"><circle cx="388.7" cy="3090.7" r="5.3"/></g>
<g id="n444"><circle cx="388.7" cy="3111" r="5.3"/></g>
<g id="n445"><circle cx="388.7" cy="3131.3" r="5.3"/></g>
<g id="n446"><circle cx="388.7" cy="3151.5" r="5.3"/></g>
<g id="n447"><circle cx="388.7" cy="3171.8" r="5.3"/></g>
<g id="n448"><circle cx="322" cy="2989.4" r="5.3"/></g>
<g id="n449"><circle cx="322" cy="3009.7" r="5.3"/></g>
<g id="n450"><circle cx="355.3" cy="2989.4" r="5.3"/></g>
<g id="n451"><circle cx="355.3" cy="3009.7" r="5.3"/></g>
<g id="n452"><circle cx="322" cy="3029.9" r="5.3"/></g>
<g id="n453"><circle cx="322" cy="3050.2" r="5.3"/></g>
<g id="n454"><circle cx="355.3" cy="3029.9" r="5.3"/></g>
<g id="n455"><circle cx="355.3" cy="3050.2" r="5.3"/></g>
<g id="n456"><circle cx="322" cy="3070.5" r="5.3"/></g>
<g id="n457"><circle cx="322" cy="3090.7" r="5.3"/></g>
<g id="n458"><circle cx="355.3" cy="3070.5" r="5.3"/></g>
<g id="n459"><circle cx="355.3" cy="3090.7" r="5.3"/></g>
<g id="n460"><circle cx="306" cy="3111" r="5.3"/></g>
<g id="n461"><circle cx="306" cy="3131.3" r="5.3"/></g>
<g id="n462"><circle cx="339.3" cy="3111" r="5.3"/></g>
<g id="n463"><circle cx="339.3" cy="3131.3" r="5.3"/></g>
<g id="n464"><circle cx="355.3" cy="3192.1" r="5.3"/></g>
<g id="n465"><circle cx="355.3" cy="3212.3" r="5.3"/></g>
<g id="n466"><circle cx="355.3" cy="3232.6" r="5.3"/></g>
<g id="n467"><circle cx="355.3" cy="3252.9" r="5.3"/></g>
<g id="n468"><circle cx="388.7" cy="3192.1" r="5.3"/></g>
<g id="n469"><circle cx="388.7" cy="3212.3" r="5.3"/></g>
<g id="n470"><circle cx="422" cy="3192.1" r="5.3"/></g>
<g id="n471"><circle cx="422" cy="3212.3" r="5.3"/></g>
<g id="n472"><circle cx="388.7" cy="3232.6" r="5.3"/></g>
<g id="n473"><circle cx="388.7" cy="3252.9" r="5.3"/></g>
<g id="n474"><circle cx="388.7" cy="3273.1" r="5.3"/></g>
<g id="n475"><circle cx="388.7" cy="3293.4" r="5.3"/></g>
<g id="n476"><circle cx="422" cy="3232.6" r="5.3"/></g>
<g id="n477"><circle cx="422" cy="3252.9" r="5.3"/></g>
<g id="n478"><circle cx="422" cy="3273.1" r="5.3"/></g>
<g id="n479"><circle cx="422" cy="3293.4" r="5.3"/></g>
<g id="n480"><circle cx="422" cy="3313.7" r="5.3"/></g>
<g id="n481"><circle cx="422" cy="3334" r="5.3"/></g>
<g id="n482"><circle cx="422" cy="3354.2" r="5.3"/></g>
<g id="n483"><circle cx="422" cy="3374.5" r="5.3"/></g>
<g id="n484"><circle cx="422" cy="3394.8" r="5.3"/></g>
<g id="n485"><circle cx="422" cy="3415" r="5.3"/></g>
<g id="n486"><circle cx="422" cy="3435.3" r="5.3"/></g>
<g id="n487"><circle cx="422" cy="3455.6" r="5.3"/></g>
<g id="n488"><circle cx="406" cy="3475.8" r="5.3"/></g>
<g id="n489"><circle cx="406" cy="3496.1" r="5.3"/></g>
<g id="n490"><circle cx="439.3" cy="3475.8" r="5.3"/></g>
<g id="n491"><circle cx="439.3" cy="3496.1" r="5.3"/></g>
<g id="n492"><circle cx="439.3" cy="3516.4" r="5.3"/></g>
<g id="n493"><circle cx="439.3" cy="3536.6" r="5.3"/></g>
<g id="n494"><circle cx="439.3" cy="3556.9" r="5.3"/></g>
<g id="n495"><circle cx="439.3" cy="3577.2" r="5.3"/></g>
<g id="n496"><circle cx="423.3" cy="3597.4" r="5.3"/></g>
<g id="n497"><circle cx="423.3" cy="3617.7" r="5.3"/></g>
<g id="n498"><circle cx="456.7" cy="3597.4" r="5.3"/></g>
<g id="n499"><circle cx="456.7" cy="3617.7" r="5.3"/></g>
<g id="n500"><circle cx="407.3" cy="3638" r="5.3"/></g>
<g id="n501"><circle cx="407.3" cy="3658.2" r="5.3"/></g>
<g id="n502"><circle cx="407.3" cy="3678.5" r="5.3"/></g>
<g id="n503"><circle cx="407.3" cy="3698.8" r="5.3"/></g>
<g id="n504"><circle cx="407.3" cy="3719" r="5.3"/></g>
<g id="n505"><circle cx="407.3" cy="3739.3" r="5.3"/></g>
<g id="n506"><circle cx="407.3" cy="3759.6" r="5.3"/></g>
<g id="n507"><circle cx="407.3" cy="3779.9" r="5.3"/></g>
<g id="n508"><circle cx="407.3" cy="3800.1" r="5.3"/></g>
<g id="n509"><circle cx="407.3" cy="3820.4" r="5.3"/></g>
<g id="n510"><circle cx="407.3" cy="3840.7" r="5.3"/></g>
<g id="n511"><circle cx="407.3" cy="3860.9" r="5.3"/></g>
<g id="n512"><circle cx="407.3" cy="3881.2" r="5.3"/></g>
<g id="n513"><circle cx="407.3" cy="3901.5" r="5.3"/></g>
<g id="n514"><circle cx="407.3" cy="3921.7" r="5.3"/></g>
<g id="n515"><circle cx="407.3" cy="3942" r="5.3"/></g>
<g id="n516"><circle cx="440.7" cy="3638" r="5.3"/></g>
<g id="n517"><circle cx="440.7" cy="3658.2" r="5.3"/></g>
<g id="n518"><circle cx="167.3" cy="1530.1" r="5.3"/></g>
<g id="n519"><circle cx="167.3" cy="1550.4" r="5.3"/></g>
<g id="n520"><circle cx="143.3" cy="1570.6" r="5.3"/></g>
<g id="n521"><circle cx="143.3" cy="1590.9" r="5.3"/></g>
<g id="n522"><circle cx="143.3" cy="1611.2" r="5.3"/></g>
<g id="n523"><circle cx="143.3" cy="1631.4" r="5.3"/></g>
<g id="n524"><circle cx="143.3" cy="1651.7" r="5.3"/></g>
<g id="n525"><circle cx="143.3" cy="1672" r="5.3"/></g>
<g id="n526"><circle cx="143.3" cy="1692.2" r="5.3"/></g>
<g id="n527"><circle cx="143.3" cy="1712.5" r="5.3"/></g>
<g id="n528"><circle cx="200.7" cy="1530.1" r="5.3"/></g>
<g id="n529"><circle cx="200.7" cy="1550.4" r="5.3"/></g>
<g id="n530"><circle cx="200.7" cy="1570.6" r="5.3"/></g>
<g id="n531"><circle cx="200.7" cy="1590.9" r="5.3"/></g>
<g id="n532"><circle cx="84.7" cy="1732.8" r="5.3"/></g>
<g id="n533"><circle cx="60.7" cy="1753" r="5.3"/></g>
<g id="n534"><circle cx="126" cy="1732.8" r="5.3"/></g>
<g id="n535"><circle cx="126" cy="1753" r="5.3"/></g>
<g id="n536"><circle cx="159.3" cy="1732.8" r="5.3"/></g>
<g id="n537"><circle cx="159.3" cy="1753" r="5.3"/></g>
<g id="n538"><circle cx="192.7" cy="1611.2" r="5.3"/></g>
<g id="n539"><circle cx="192.7" cy="1631.4" r="5.3"/></g>
<g id="n540"><circle cx="192.7" cy="1651.7" r="5.3"/></g>
<g id="n541"><circle cx="192.7" cy="1672" r="5.3"/></g>
<g id="n542"><circle cx="192.7" cy="1692.2" r="5.3"/></g>
<g id="n543"><circle cx="192.7" cy="1712.5" r="5.3"/></g>
<g id="n544"><circle cx="192.7" cy="1732.8" r="5.3"/></g>
<g id="n545"><circle cx="192.7" cy="1753" r="5.3"/></g>
<g id="n546"><circle cx="226" cy="1611.2" r="5.3"/></g>
<g id="n547"><circle cx="226" cy="1631.4" r="5.3"/></g>
<g id="n548"><circle cx="226" cy="1651.7" r="5.3"/></g>
<g id="n549"><circle cx="226" cy="1672" r="5.3"/></g>
<g id="n550"><circle cx="226" cy="1692.2" r="5.3"/></g>
<g id="n551"><circle cx="226" cy="1712.5" r="5.3"/></g>
<g id="n552"><circle cx="226" cy="1732.8" r="5.3"/></g>
<g id="n553"><circle cx="226" cy="1753" r="5.3"/></g>
<g id="n554"><circle cx="259.3" cy="1692.2" r="5.3"/></g>
<g id="n555"><circle cx="259.3" cy="1712.5" r="5.3"/></g>
<g id="n556"><circle cx="192.7" cy="1773.3" r="5.3"/></g>
<g id="n557"><circle cx="192.7" cy="1793.6" r="5.3"/></g>
<g id="n558"><circle cx="226" cy="1773.3" r="5.3"/></g>
<g id="n559"><circle cx="226" cy="1793.6" r="5.3"/></g>
<g id="n560"><circle cx="204.7" cy="1813.9" r="5.3"/></g>
<g id="n561"><circle cx="204.7" cy="1834.1" r="5.3"/></g>
<g id="n562"><circle cx="204.7" cy="1854.4" r="5.3"/></g>
<g id="n563"><circle cx="204.7" cy="1874.7" r="5.3"/></g>
<g id="n564"><circle cx="204.7" cy="1894.9" r="5.3"/></g>
<g id="n565"><circle cx="204.7" cy="1915.2" r="5.3"/></g>
<g id="n566"><circle cx="204.7" cy="1935.5" r="5.3"/></g>
<g id="n567"><circle cx="204.7" cy="1955.7" r="5.3"/></g>
<g id="n568"><circle cx="238" cy="1813.9" r="5.3"/></g>
<g id="n569"><circle cx="238" cy="1834.1" r="5.3"/></g>
<g id="n570"><circle cx="126" cy="1773.3" r="5.3"/></g>
<g id="n571"><circle cx="126" cy="1793.6" r="5.3"/></g>
<g id="n572"><circle cx="159.3" cy="1773.3" r="5.3"/></g>
<g id="n573"><circle cx="159.3" cy="1793.6" r="5.3"/></g>
<g id="n574"><circle cx="126" cy="1813.9" r="5.3"/></g>
<g id="n575"><circle cx="126" cy="1834.1" r="5.3"/></g>
<g id="n576"><circle cx="159.3" cy="1813.9" r="5.3"/></g>
<g id="n577"><circle cx="159.3" cy="1834.1" r="5.3"/></g>
<g id="n578"><circle cx="159.3" cy="1854.4" r="5.3"/></g>
<g id="n579"><circle cx="159.3" cy="1874.7" r="5.3"/></g>
<g id="n580"><circle cx="159.3" cy="1894.9" r="5.3"/></g>
<g id="n581"><circle cx="159.3" cy="1915.2" r="5.3"/></g>
<g id="n582"><circle cx="126" cy="1935.5" r="5.3"/></g>
<g id="n583"><circle cx="126" cy="1955.7" r="5.3"/></g>
<g id="n584"><circle cx="126" cy="1976" r="5.3"/></g>
<g id="n585"><circle cx="126" cy="1996.3" r="5.3"/></g>
<g id="n586"><circle cx="126" cy="2016.5" r="5.3"/></g>
<g id="n587"><circle cx="126" cy="2036.8" r="5.3"/></g>
<g id="n588"><circle cx="159.3" cy="1935.5" r="5.3"/></g>
<g id="n589"><circle cx="159.3" cy="1955.7" r="5.3"/></g>
<g id="n590"><circle cx="159.3" cy="1976" r="5.3"/></g>
<g id="n591"><circle cx="159.3" cy="1996.3" r="5.3"/></g>
<g id="n592"><circle cx="159.3" cy="2016.5" r="5.3"/></g>
<g id="n593"><circle cx="159.3" cy="2036.8" r="5.3"/></g>
<g id="n594"><circle cx="159.3" cy="2057.1" r="5.3"/></g>
<g id="n595"><circle cx="159.3" cy="2077.3" r="5.3"/></g>
<g id="n596"><circle cx="159.3" cy="2097.6" r="5.3"/></g>
<g id="n597"><circle cx="159.3" cy="2117.9" r="5.3"/></g>
<g id="n598"><circle cx="92.7" cy="2057.1" r="5.3"/></g>
<g id="n599"><circle cx="92.7" cy="2077.3" r="5.3"/></g>
<g id="n600"><circle cx="92.7" cy="2097.6" r="5.3"/></g>
<g id="n601"><circle cx="92.7" cy="2117.9" r="5.3"/></g>
<g id="n602"><circle cx="92.7" cy="2138.1" r="5.3"/></g>
<g id="n603"><circle cx="92.7" cy="2158.4" r="5.3"/></g>
<g id="n604"><circle cx="92.7" cy="2178.7" r="5.3"/></g>
<g id="n605"><circle cx="92.7" cy="2198.9" r="5.3"/></g>
<g id="n606"><circle cx="92.7" cy="2219.2" r="5.3"/></g>
<g id="n607"><circle cx="92.7" cy="2239.5" r="5.3"/></g>
<g id="n608"><circle cx="92.7" cy="2259.7" r="5.3"/></g>
<g id="n609"><circle cx="92.7" cy="2280" r="5.3"/></g>
<g id="n610"><circle cx="126" cy="2057.1" r="5.3"/></g>
<g id="n611"><circle cx="126" cy="2077.3" r="5.3"/></g>
<g id="n612"><circle cx="155.3" cy="2138.1" r="5.3"/></g>
<g id="n613"><circle cx="155.3" cy="2158.4" r="5.3"/></g>
<g id="n614"><circle cx="188.7" cy="2138.1" r="5.3"/></g>
<g id="n615"><circle cx="188.7" cy="2158.4" r="5.3"/></g>
<g id="n616"><circle cx="188.7" cy="2178.7" r="5.3"/></g>
<g id="n617"><circle cx="188.7" cy="2198.9" r="5.3"/></g>
<g id="n618"><circle cx="172.7" cy="2219.2" r="5.3"/></g>
<g id="n619"><circle cx="172.7" cy="2239.5" r="5.3"/></g>
<g id="n620"><circle cx="172.7" cy="2259.7" r="5.3"/></g>
<g id="n621"><circle cx="172.7" cy="2280" r="5.3"/></g>
<g id="n622"><circle cx="206" cy="2219.2" r="5.3"/></g>
<g id="n623"><circle cx="206" cy="2239.5" r="5.3"/></g>
<g id="n624"><circle cx="206" cy="2259.7" r="5.3"/></g>
<g id="n625"><circle cx="206" cy="2280" r="5.3"/></g>
<g id="n626"><circle cx="10" cy="1773.3" r="5.3"/></g>
<g id="n627"><circle cx="10" cy="1793.6" r="5.3"/></g>
<g id="n628"><circle cx="43.3" cy="1773.3" r="5.3"/></g>
<g id="n629"><circle cx="43.3" cy="1793.6" r="5.3"/></g>
<g id="n630"><circle cx="26" cy="1813.9" r="5.3"/></g>
<g id="n631"><circle cx="26" cy="1834.1" r="5.3"/></g>
<g id="n632"><circle cx="76.7" cy="1773.3" r="5.3"/></g>
<g id="n633"><circle cx="76.7" cy="1793.6" r="5.3"/></g>
<g id="n634"><circle cx="59.3" cy="1813.9" r="5.3"/></g>
<g id="n635"><circle cx="59.3" cy="1834.1" r="5.3"/></g>
<g id="n636"><circle cx="92.7" cy="1813.9" r="5.3"/></g>
<g id="n637"><circle cx="92.7" cy="1834.1" r="5.3"/></g>
<g id="n638"><circle cx="43.3" cy="1854.4" r="5.3"/></g>
<g id="n639"><circle cx="43.3" cy="1874.7" r="5.3"/></g>
<g id="n640"><circle cx="43.3" cy="1894.9" r="5.3"/></g>
<g id="n641"><circle cx="43.3" cy="1915.2" r="5.3"/></g>
<g id="n642"><circle cx="43.3" cy="1935.5" r="5.3"/></g>
<g id="n643"><circle cx="43.3" cy="1955.7" r="5.3"/></g>
<g id="n644"><circle cx="43.3" cy="1976" r="5.3"/></g>
<g id="n645"><circle cx="43.3" cy="1996.3" r="5.3"/></g>
<g id="n646"><circle cx="76.7" cy="1854.4" r="5.3"/></g>
<g id="n647"><circle cx="76.7" cy="1874.7" r="5.3"/></g>
</g>
</svg>
